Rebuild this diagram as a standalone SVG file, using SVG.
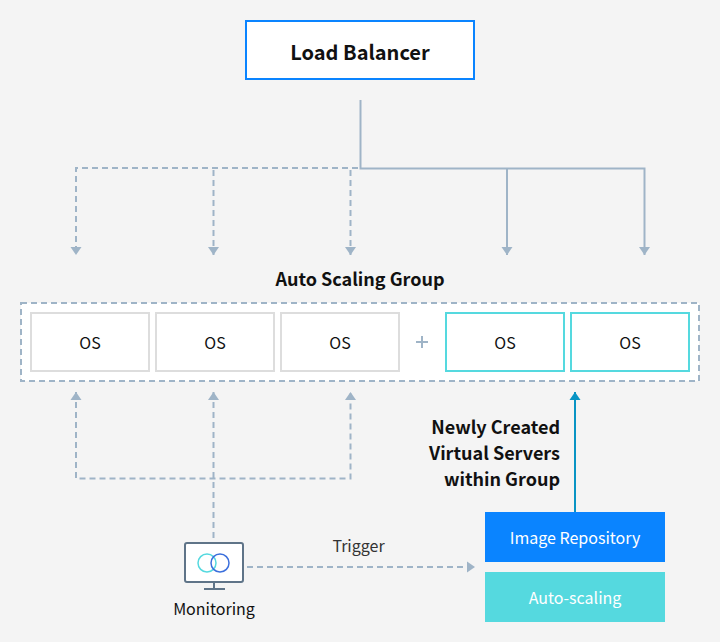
<svg xmlns="http://www.w3.org/2000/svg" width="720" height="642" viewBox="0 0 720 642">
<style>
text{font-family:"Noto Sans CJK KR","Noto Sans",sans-serif;text-anchor:middle;fill:#111}
.os{fill:#fff;stroke:#ddd;stroke-width:2}
.new{fill:#fff;stroke:#55d9df;stroke-width:2}
.t{font-size:16px}
.b{font-size:18px;font-weight:700}
.c{fill:none;stroke:#9fb4c7;stroke-width:2}
.d{stroke-dasharray:6 4}
.w{fill:#fff;font-size:16px}
</style>
<defs>
<marker id="a" markerUnits="userSpaceOnUse" markerWidth="9" markerHeight="12" refX="8" refY="6" orient="auto-start-reverse"><path d="M0 0.500L8 6L0 11.500Z" fill="#9fb4c7"/></marker>
<marker id="b" markerUnits="userSpaceOnUse" markerWidth="9" markerHeight="12" refX="8" refY="6" orient="auto"><path d="M0 0.500L8 6L0 11.500Z" fill="#0994c4"/></marker>
</defs>
<rect width="720" height="642" fill="#f4f4f4"/>
<g id="group"><rect x="21" y="303" width="678" height="78" fill="#fff" stroke="#9fb4c7" stroke-width="2" stroke-dasharray="6 4"/></g>
<g id="connectors">
<path class="c" d="M360.500 100V168.500H644.500V255" marker-end="url(#a)"/>
<path class="c" d="M507 168.500V255" marker-end="url(#a)"/>
<path class="c d" d="M358 168H76V255" marker-end="url(#a)"/>
<path class="c d" d="M213.500 170V255" marker-end="url(#a)"/>
<path class="c d" d="M350.500 170V255" marker-end="url(#a)"/>
<path class="c d" d="M76 392V478.500H350.500V392" marker-start="url(#a)" marker-end="url(#a)"/>
<path class="c d" d="M213.500 392V542" marker-start="url(#a)"/>
<path class="c d" d="M247 567H475" marker-end="url(#a)"/>
<path d="M575 512V392" fill="none" stroke="#0994c4" stroke-width="2" marker-end="url(#b)"/>
<path d="M416 342H428M422 336V348" fill="none" stroke="#9fb4c7" stroke-width="2"/>
</g>
<g id="load-balancer"><rect x="246" y="21" width="228" height="58" fill="#fff" stroke="#0a84ff" stroke-width="2"/><text x="360" y="60" font-size="20" font-weight="700">Load Balancer</text></g>
<text class="b" x="360" y="286">Auto Scaling Group</text>
<g id="os1"><rect class="os" x="31" y="313" width="118" height="58"/><text class="t" x="90" y="349">OS</text></g>
<g id="os2"><rect class="os" x="156" y="313" width="118" height="58"/><text class="t" x="215" y="349">OS</text></g>
<g id="os3"><rect class="os" x="281" y="313" width="118" height="58"/><text class="t" x="340" y="349">OS</text></g>
<g id="os4"><rect class="new" x="446" y="313" width="118" height="58"/><text class="t" x="505" y="349">OS</text></g>
<g id="os5"><rect class="new" x="571" y="313" width="118" height="58"/><text class="t" x="630" y="349">OS</text></g>
<g id="label-new"><text class="b" x="560" y="434" style="text-anchor:end">Newly Created</text><text class="b" x="560" y="460" style="text-anchor:end">Virtual Servers</text><text class="b" x="560" y="486" style="text-anchor:end">within Group</text></g>
<g id="image-repository"><rect x="485" y="512" width="180" height="50" fill="#0a84ff"/><text class="w" x="575" y="544">Image Repository</text></g>
<g id="auto-scaling"><rect x="485" y="572" width="180" height="50" fill="#55d9df"/><text class="w" x="575" y="604">Auto-scaling</text></g>
<g id="monitoring">
<rect x="185" y="543" width="58" height="39" rx="2" fill="#fff" stroke="#5f7488" stroke-width="2"/>
<path d="M214 582V588M204 589H225" fill="none" stroke="#5f7488" stroke-width="2"/>
<circle cx="207" cy="563" r="9" fill="none" stroke="#55d9df" stroke-width="1.500"/>
<circle cx="220" cy="563" r="9" fill="none" stroke="#3b6fdc" stroke-width="1.500"/>
<text class="t" x="214" y="615">Monitoring</text>
</g>
<text class="t" x="358.500" y="552" style="fill:#333">Trigger</text>
</svg>
